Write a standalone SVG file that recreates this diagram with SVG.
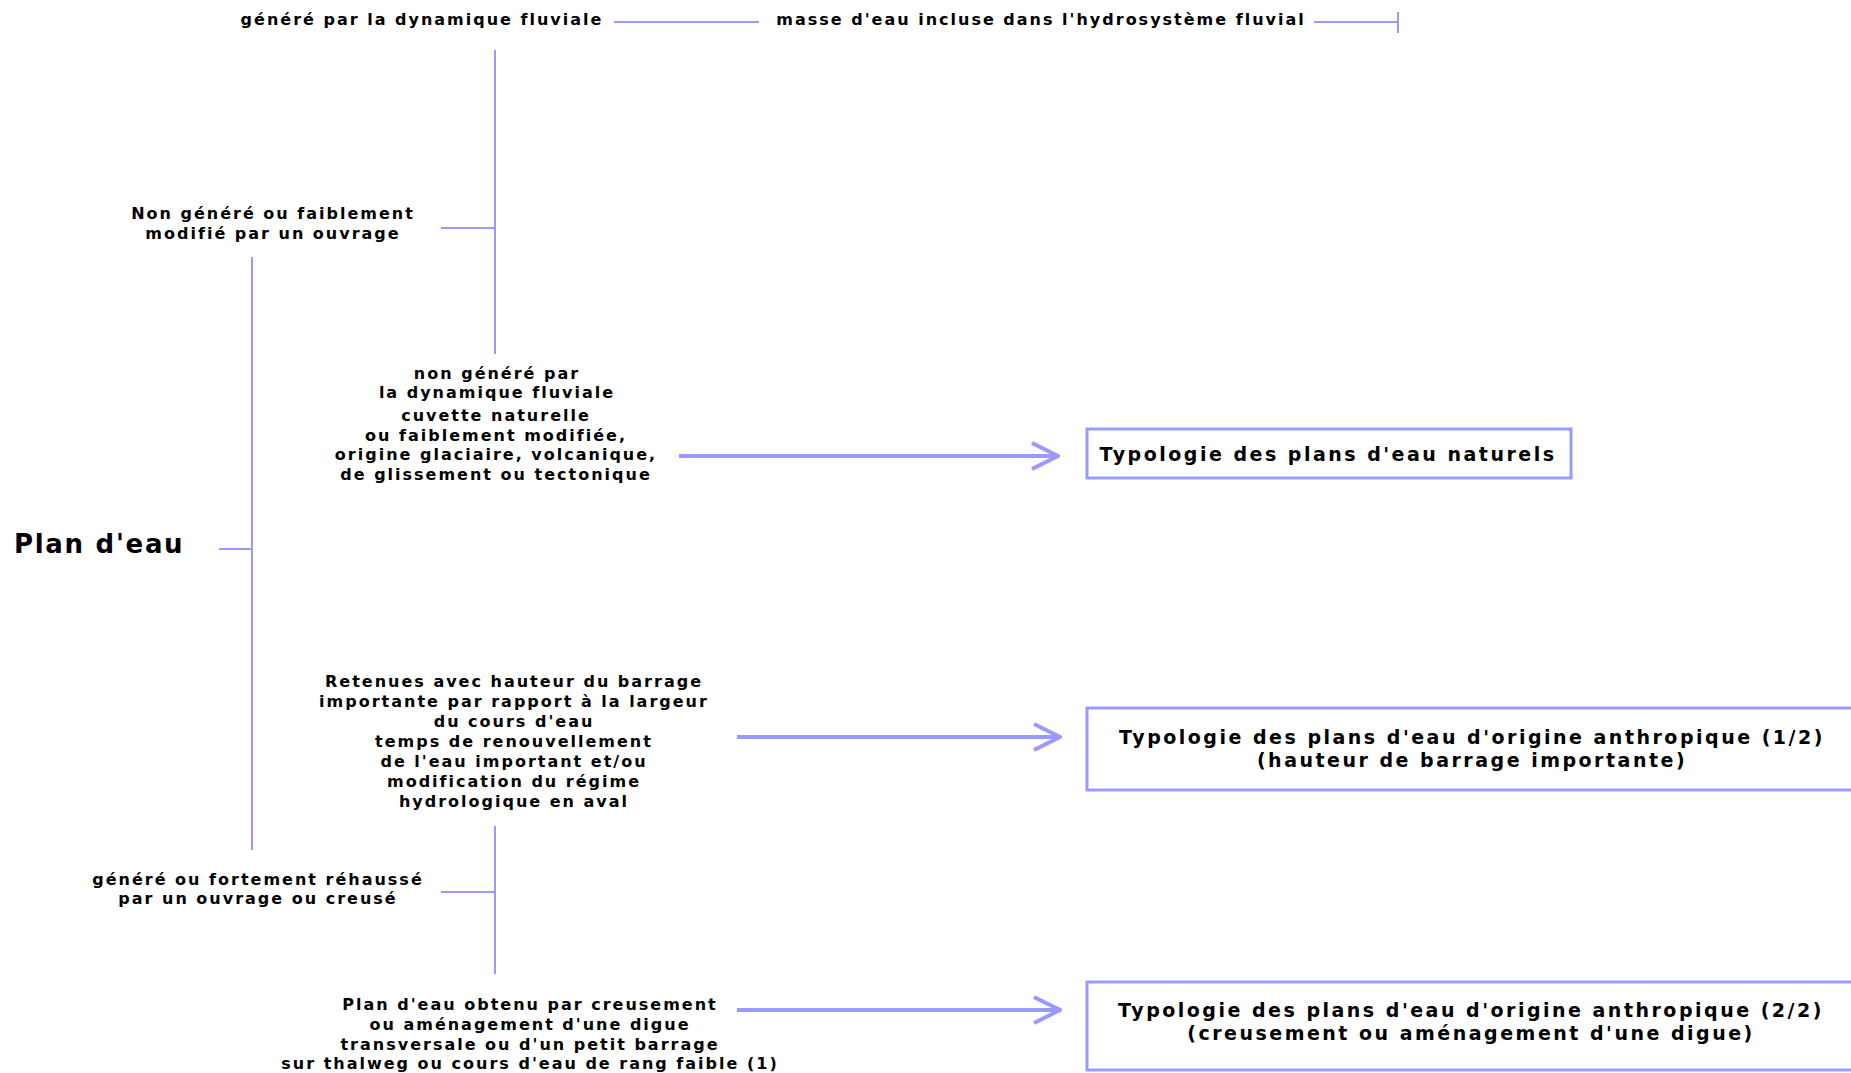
<svg xmlns="http://www.w3.org/2000/svg" width="1851" height="1073" viewBox="0 0 1851 1073">
<defs>
<style>
.t{font-family:"DejaVu Sans","Liberation Sans",sans-serif;font-weight:bold;font-size:16px;letter-spacing:2px;fill:#000;text-anchor:middle}
.b{font-family:"DejaVu Sans","Liberation Sans",sans-serif;font-weight:bold;font-size:19px;letter-spacing:2.5px;fill:#000;text-anchor:middle}
.ln{stroke:#9999ff;stroke-width:2;fill:none}
.ar{stroke:#9999ff;stroke-width:4;fill:none}
.box{stroke:#9999ff;stroke-width:3;fill:#fff}
</style>
<marker id="chev" viewBox="0 0 30 30" refX="28" refY="15" markerWidth="30" markerHeight="30" markerUnits="userSpaceOnUse" orient="auto">
<path d="M2,2 L28,15 L2,28" stroke="#9999ff" stroke-width="4" fill="none"/>
</marker>
</defs>
<rect width="1851" height="1073" fill="#fff"/>
<g id="connectors">
<line class="ln" x1="614" y1="22" x2="759" y2="22"/>
<line class="ln" x1="1314" y1="22" x2="1398" y2="22"/>
<line class="ln" x1="1398" y1="12" x2="1398" y2="33"/>
<line class="ln" x1="495" y1="50" x2="495" y2="354"/>
<line class="ln" x1="441" y1="228" x2="495" y2="228"/>
<line class="ln" x1="252" y1="257" x2="252" y2="850"/>
<line class="ln" x1="219" y1="549" x2="252" y2="549"/>
<line class="ln" x1="495" y1="826" x2="495" y2="974"/>
<line class="ln" x1="441" y1="892" x2="495" y2="892"/>
<line class="ar" x1="679" y1="456" x2="1058" y2="456" marker-end="url(#chev)"/>
<line class="ar" x1="737" y1="737" x2="1060" y2="737" marker-end="url(#chev)"/>
<line class="ar" x1="737" y1="1010" x2="1060" y2="1010" marker-end="url(#chev)"/>
</g>
<g id="root">
<text x="14" y="553" style="font-family:'DejaVu Sans','Liberation Sans',sans-serif;font-weight:bold;font-size:26px;letter-spacing:1.7px">Plan d'eau</text>
</g>
<g id="n-genere-fluv">
<text class="t" x="422" y="25">généré par la dynamique fluviale</text>
</g>
<g id="n-masse">
<text class="t" x="1041" y="25">masse d'eau incluse dans l'hydrosystème fluvial</text>
</g>
<g id="n-non-genere-ouvrage">
<text class="t" x="273" y="219">Non généré ou faiblement</text>
<text class="t" x="273" y="239">modifié par un ouvrage</text>
</g>
<g id="n-non-genere-fluv">
<text class="t" x="497" y="379">non généré par</text>
<text class="t" x="497" y="398">la dynamique fluviale</text>
<text class="t" x="496" y="421">cuvette naturelle</text>
<text class="t" x="496" y="441">ou faiblement modifiée,</text>
<text class="t" x="496" y="460">origine glaciaire, volcanique,</text>
<text class="t" x="496" y="480">de glissement ou tectonique</text>
</g>
<g id="n-retenues">
<text class="t" x="514" y="687">Retenues avec hauteur du barrage</text>
<text class="t" x="514" y="707">importante par rapport à la largeur</text>
<text class="t" x="514" y="727">du cours d'eau</text>
<text class="t" x="514" y="747">temps de renouvellement</text>
<text class="t" x="514" y="767">de l'eau important et/ou</text>
<text class="t" x="514" y="787">modification du régime</text>
<text class="t" x="514" y="807">hydrologique en aval</text>
</g>
<g id="n-genere-ouvrage">
<text class="t" x="258" y="885">généré ou fortement réhaussé</text>
<text class="t" x="258" y="904">par un ouvrage ou creusé</text>
</g>
<g id="n-creusement">
<text class="t" x="530" y="1010">Plan d'eau obtenu par creusement</text>
<text class="t" x="530" y="1030">ou aménagement d'une digue</text>
<text class="t" x="530" y="1050">transversale ou d'un petit barrage</text>
<text class="t" x="530" y="1069">sur thalweg ou cours d'eau de rang faible (1)</text>
</g>
<g id="box-naturels">
<rect class="box" x="1087" y="429" width="484" height="49"/>
<text class="b" x="1328" y="461">Typologie des plans d'eau naturels</text>
</g>
<g id="box-anthro1">
<rect class="box" x="1087" y="708" width="780" height="82"/>
<text class="b" x="1472" y="744">Typologie des plans d'eau d'origine anthropique (1/2)</text>
<text class="b" x="1472" y="767">(hauteur de barrage importante)</text>
</g>
<g id="box-anthro2">
<rect class="box" x="1087" y="982" width="780" height="88"/>
<text class="b" x="1471" y="1017">Typologie des plans d'eau d'origine anthropique (2/2)</text>
<text class="b" x="1471" y="1040">(creusement ou aménagement d'une digue)</text>
</g>
</svg>
